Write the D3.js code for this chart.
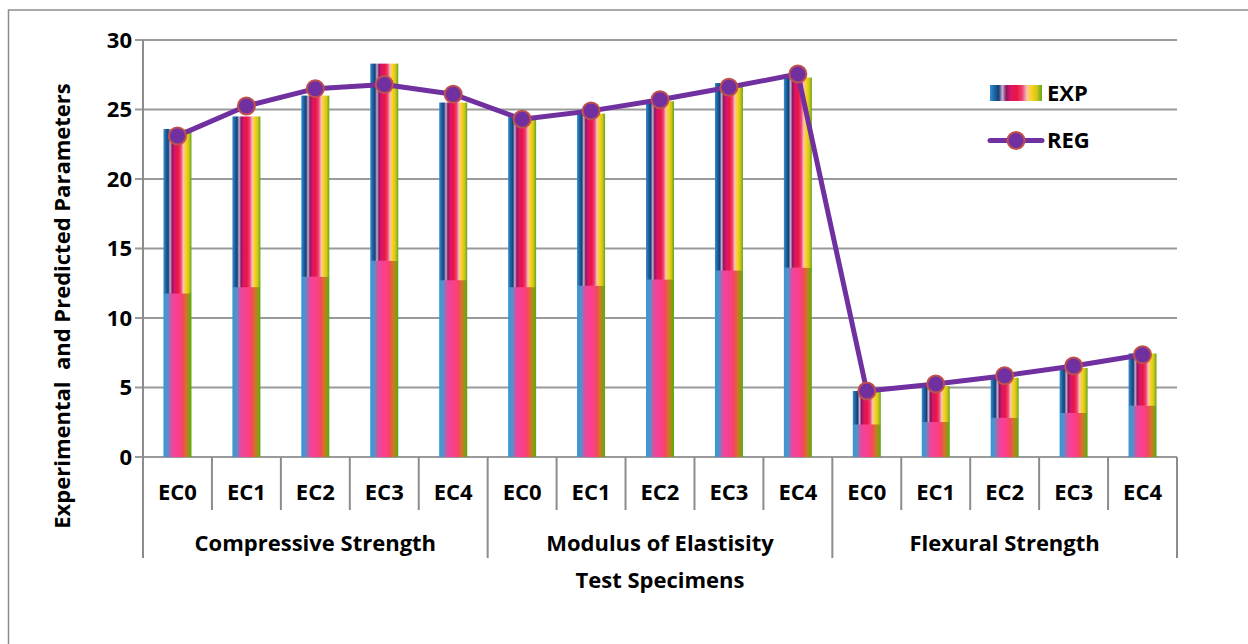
<!DOCTYPE html>
<html>
<head>
<meta charset="utf-8">
<script src="https://cdn.jsdelivr.net/npm/d3@7"></script>
<style>
  body { margin: 0; background: #fff; }
  svg text { font-family: "Open Sans", "Noto Sans", sans-serif; font-weight: bold; fill: #000; }
</style>
</head>
<body>
<svg id="chart" width="1248" height="644" viewBox="0 0 1248 644"></svg>
<script>
// chart values
const groups = ["Compressive Strength", "Modulus of Elastisity", "Flexural Strength"]
const specimens = ["EC0", "EC1", "EC2", "EC3", "EC4"]
const expValues = [23.6, 24.5, 26.0, 28.3, 25.5,
                   24.5, 24.7, 25.6, 26.9, 27.3,
                   4.75, 5.1, 5.7, 6.4, 7.45]
const regValues = [23.1, 25.25, 26.5, 26.8, 26.1,
                   24.3, 24.9, 25.7, 26.6, 27.55,
                   4.75, 5.25, 5.85, 6.55, 7.35]
const yTicks = [0, 5, 10, 15, 20, 25, 30]

const svg = d3.select("#chart")
const margin = {left: 143, right: 1177, top: 40, bottom: 457}
const fontSize = 22

// one row per bar
let rows = []
groups.forEach((g, gi) => {
    specimens.forEach((s, si) => {
        let k = gi * specimens.length + si
        rows.push({key: k, group: g, name: s, exp: expValues[k], reg: regValues[k]})
    })
})

let x = d3.scaleBand()
    .domain(rows.map(d => d.key))
    .range([margin.left, margin.right])
    .paddingInner(0)
    .paddingOuter(0)

let y = d3.scaleLinear()
    .domain([0, 30])
    .range([margin.bottom, margin.top])

// outer frame (cut off on the right and bottom like the picture)
svg.append("rect")
    .attr("x", 8.5).attr("y", 10)
    .attr("width", 1300).attr("height", 700)
    .attr("fill", "none")
    .attr("stroke", "#8c8c8c")
    .attr("stroke-width", 1.5)

// gradients imitating the picture fill of the bars
const defs = svg.append("defs")
const topGrad = defs.append("linearGradient").attr("id", "barTop")
    .attr("x1", 0).attr("x2", 1).attr("y1", 0).attr("y2", 0)
;[[0, "#3b8fd0"], [0.08, "#1a68a8"], [0.17, "#1a3f72"], [0.24, "#c4b0d6"], [0.31, "#8a1a5c"],
  [0.4, "#e0126c"], [0.52, "#e8183e"], [0.62, "#f0407a"], [0.71, "#f6c6b0"], [0.8, "#fbd21a"],
  [0.9, "#d2c61e"], [1, "#5fa812"]].forEach(s => {
    topGrad.append("stop").attr("offset", s[0]).attr("stop-color", s[1])
})
const botGrad = defs.append("linearGradient").attr("id", "barBottom")
    .attr("x1", 0).attr("x2", 1).attr("y1", 0).attr("y2", 0)
;[[0, "#2f9bd8"], [0.15, "#5a8ec8"], [0.3, "#e8489e"], [0.55, "#ff3d8a"], [0.7, "#f04a5a"],
  [0.8, "#d8702c"], [0.9, "#a09018"], [1, "#4cb00c"]].forEach(s => {
    botGrad.append("stop").attr("offset", s[0]).attr("stop-color", s[1])
})

// gridlines
svg.append("g")
    .selectAll("line")
    .data(yTicks)
    .enter()
    .append("line")
    .attr("x1", margin.left - 8)
    .attr("x2", margin.right)
    .attr("y1", d => y(d))
    .attr("y2", d => y(d))
    .attr("stroke", "#9a9a9a")
    .attr("stroke-width", 2)

// y axis line
svg.append("line")
    .attr("x1", margin.left).attr("x2", margin.left)
    .attr("y1", y(30)).attr("y2", 558)
    .attr("stroke", "#8c8c8c").attr("stroke-width", 2)

// y tick labels
svg.append("g")
    .selectAll("text")
    .data(yTicks)
    .enter()
    .append("text")
    .attr("x", 132)
    .attr("y", d => y(d))
    .attr("dy", "0.36em")
    .attr("text-anchor", "end")
    .attr("font-size", fontSize)
    .text(d => d)

// x category ticks
svg.append("g")
    .selectAll("line")
    .data(d3.range(rows.length + 1))
    .enter()
    .append("line")
    .attr("x1", i => margin.left + i * x.bandwidth())
    .attr("x2", i => margin.left + i * x.bandwidth())
    .attr("y1", margin.bottom)
    .attr("y2", i => i % specimens.length === 0 ? 558 : 510)
    .attr("stroke", "#8c8c8c")
    .attr("stroke-width", 2)

// bars, drawn in two halves like the stretched picture fill
const barW = 28
let bars = svg.append("g")
    .selectAll("g")
    .data(rows)
    .enter()
    .append("g")

bars.append("rect")
    .attr("x", d => x(d.key) + x.bandwidth() / 2 - barW / 2)
    .attr("y", d => y(d.exp / 2))
    .attr("width", barW)
    .attr("height", d => y(0) - y(d.exp / 2))
    .attr("fill", "url(#barBottom)")

bars.append("rect")
    .attr("x", d => x(d.key) + x.bandwidth() / 2 - barW / 2)
    .attr("y", d => y(d.exp))
    .attr("width", barW)
    .attr("height", d => y(d.exp / 2) - y(d.exp) + 0.5)
    .attr("fill", "url(#barTop)")

// regression line
let line = d3.line()
    .x(d => x(d.key) + x.bandwidth() / 2)
    .y(d => y(d.reg))

svg.append("path")
    .datum(rows)
    .attr("d", line)
    .attr("fill", "none")
    .attr("stroke", "#7030a0")
    .attr("stroke-width", 5)
    .attr("stroke-linejoin", "round")

svg.append("g")
    .selectAll("circle")
    .data(rows)
    .enter()
    .append("circle")
    .attr("cx", d => x(d.key) + x.bandwidth() / 2)
    .attr("cy", d => y(d.reg))
    .attr("r", 8.5)
    .attr("fill", "#7030a0")
    .attr("stroke", "#c0504d")
    .attr("stroke-width", 2)

// x labels
svg.append("g")
    .selectAll("text")
    .data(rows)
    .enter()
    .append("text")
    .attr("x", d => x(d.key) + x.bandwidth() / 2)
    .attr("y", 492)
    .attr("dy", "0.36em")
    .attr("text-anchor", "middle")
    .attr("font-size", fontSize)
    .text(d => d.name)

svg.append("g")
    .selectAll("text")
    .data(groups)
    .enter()
    .append("text")
    .attr("x", (d, i) => margin.left + (i + 0.5) * specimens.length * x.bandwidth())
    .attr("y", 543)
    .attr("dy", "0.36em")
    .attr("text-anchor", "middle")
    .attr("font-size", fontSize)
    .text(d => d)

svg.append("text")
    .attr("x", 660)
    .attr("y", 580)
    .attr("dy", "0.36em")
    .attr("text-anchor", "middle")
    .attr("font-size", fontSize)
    .text("Test Specimens")

svg.append("text")
    .attr("transform", "translate(62, 306) rotate(-90)")
    .attr("dy", "0.36em")
    .attr("text-anchor", "middle")
    .attr("font-size", fontSize)
    .style("white-space", "pre")
    .text("Experimental  and Predicted Parameters")

// legend
const legend = svg.append("g")
legend.append("rect")
    .attr("x", 990).attr("y", 85)
    .attr("width", 52).attr("height", 16)
    .attr("fill", "url(#barTop)")
legend.append("text")
    .attr("x", 1047).attr("y", 93)
    .attr("dy", "0.36em")
    .attr("font-size", fontSize)
    .text("EXP")
legend.append("line")
    .attr("x1", 990).attr("x2", 1042)
    .attr("y1", 140.5).attr("y2", 140.5)
    .attr("stroke", "#7030a0")
    .attr("stroke-width", 5)
    .attr("stroke-linecap", "round")
legend.append("circle")
    .attr("cx", 1016).attr("cy", 140.5)
    .attr("r", 8.5)
    .attr("fill", "#7030a0")
    .attr("stroke", "#c0504d")
    .attr("stroke-width", 2)
legend.append("text")
    .attr("x", 1047).attr("y", 140.5)
    .attr("dy", "0.36em")
    .attr("font-size", fontSize)
    .text("REG")
</script>
</body>
</html>
